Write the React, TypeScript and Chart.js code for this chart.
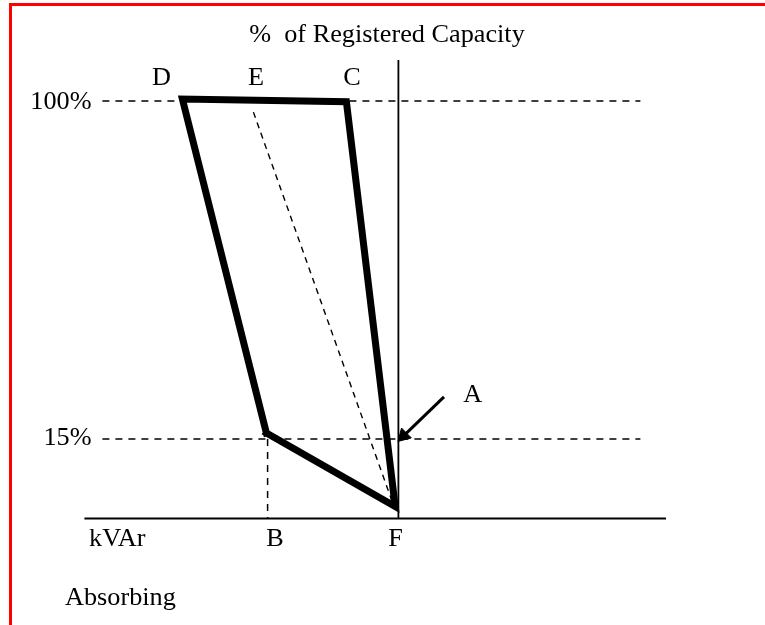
import { useEffect, useRef } from "react";
import { Chart, registerables } from "chart.js";

Chart.register(...registerables);

// Schematic units: x = kVAr (0 = unity power factor axis), y = % of Registered Capacity
const X_MIN = -99.6;
const X_MAX = 91.65;
const Y_MIN = -31.78;
const Y_MAX = 125.4;

// Capability envelope B -> D -> C -> F -> B
const envelopeKvar = [-33, -54, -13, -0.8, -33];
const envelopePct = [16.5, 100.5, 99.8, -2, 16.5];

// Dashed diagonal E -> F
const diagonalKvar = [-36.25, -1.25];
const diagonalPct = [97.2, -1.6];

// Dashed level lines (100% and 15%)
const levelPct = [100, 15];
const levelKvar = [-74, 60.5];

// kVAr axis
const axisPct = -5;
const axisKvar = [-78.5, 66.9];

// % axis (vertical)
const vAxisKvar = 0;
const vAxisPct = [110.3, -5];

// Dashed drop from B to the kVAr axis
const dropKvar = -32.7;
const dropPct = [15, -5];

// Arrow pointing at A
const arrowKvar = [11.4, 1.3];
const arrowPct = [25.6, 15.8];

// Text labels
const labelTexts = [
  "%  of Registered Capacity",
  "D",
  "E",
  "C",
  "100%",
  "15%",
  "A",
  "kVAr",
  "B",
  "F",
  "Absorbing",
];
const labelKvar = [-2.85, -59.2, -35.6, -11.6, -76.7, -76.7, 18.6, -77.35, -30.85, -0.7, -83.35];
const labelPct = [114.8, 104.0, 104.0, 104.0, 98.0, 13.5, 24.3, -11.9, -11.9, -11.9, -26.7];
const labelAlign: CanvasTextAlign[] = [
  "center",
  "center",
  "center",
  "center",
  "right",
  "right",
  "center",
  "left",
  "center",
  "center",
  "left",
];

const FONT = "25px 'Liberation Serif'";

const pts = (xs: number[], ys: number[]) => xs.map((x, i) => ({ x, y: ys[i] }));

const labelPlugin = {
  id: "diagramLabels",
  afterDatasetsDraw(chart: any) {
    const { ctx } = chart;
    const xs = chart.scales.x;
    const ys = chart.scales.y;
    ctx.save();
    ctx.fillStyle = "#000";
    ctx.font = FONT + ", 'Times New Roman', serif";
    ctx.textBaseline = "alphabetic";
    labelTexts.forEach((t, i) => {
      const px = xs.getPixelForValue(labelKvar[i]);
      const py = ys.getPixelForValue(labelPct[i]);
      ctx.save();
      ctx.translate(px, py);
      ctx.scale(1.05, 1);
      ctx.textAlign = labelAlign[i];
      ctx.fillText(t, 0, 0);
      ctx.restore();
    });
    ctx.restore();
  },
};

export default function App() {
  const ref = useRef<HTMLCanvasElement | null>(null);

  useEffect(() => {
    let chart: Chart | null = null;
    let cancelled = false;
    const build = () => {
      if (cancelled || !ref.current) return;
      const base = {
        showLine: true,
        pointRadius: 0,
        borderColor: "#000",
        backgroundColor: "#000",
        tension: 0,
        clip: false as any,
        fill: false,
      };
      chart = new Chart(ref.current, {
        type: "scatter",
        data: {
          datasets: [
            {
              ...base,
              label: "Envelope",
              data: pts(envelopeKvar, envelopePct),
              borderWidth: 7,
              borderJoinStyle: "miter",
              borderCapStyle: "square",
            },
            {
              ...base,
              label: "Arrow",
              data: pts(arrowKvar, arrowPct),
              borderWidth: 3,
              pointRadius: [0, 8],
              pointStyle: "triangle",
              pointRotation: 225,
              pointBackgroundColor: "#000",
              pointBorderColor: "#000",
              pointBorderWidth: 1,
            },
            {
              ...base,
              label: "E-F",
              data: pts(diagonalKvar, diagonalPct),
              borderWidth: 1.4,
              borderDash: [6, 5],
            },
            ...levelPct.map((p) => ({
              ...base,
              label: `${p}%`,
              data: pts(levelKvar, [p, p]),
              borderWidth: 1.5,
              borderDash: [7, 6],
            })),
            {
              ...base,
              label: "B drop",
              data: pts([dropKvar, dropKvar], dropPct),
              borderWidth: 1.5,
              borderDash: [7, 6],
            },
            {
              ...base,
              label: "% axis",
              data: pts([vAxisKvar, vAxisKvar], vAxisPct),
              borderWidth: 1.8,
            },
            {
              ...base,
              label: "kVAr axis",
              data: pts(axisKvar, [axisPct, axisPct]),
              borderWidth: 2.2,
            },
          ] as any,
        },
        options: {
          animation: false,
          responsive: false,
          devicePixelRatio: 1,
          layout: { padding: 0, autoPadding: false },
          events: [],
          plugins: {
            legend: { display: false },
            tooltip: { enabled: false },
            title: { display: false },
          },
          scales: {
            x: { type: "linear", min: X_MIN, max: X_MAX, display: false },
            y: { type: "linear", min: Y_MIN, max: Y_MAX, display: false },
          },
        },
        plugins: [labelPlugin],
      });
    };
    const fonts = (document as any).fonts;
    if (fonts && fonts.load) {
      fonts.load(FONT).then(build, build);
    } else {
      build();
    }
    return () => {
      cancelled = true;
      if (chart) chart.destroy();
    };
  }, []);

  return (
    <div
      style={{
        position: "fixed",
        left: 0,
        top: 0,
        width: 765,
        height: 625,
        background: "#fff",
        overflow: "hidden",
      }}
    >
      <div
        style={{
          position: "absolute",
          left: 9,
          top: 3,
          right: 0,
          bottom: -10,
          borderTop: "3px solid #ff0000",
          borderLeft: "3px solid #ff0000",
        }}
      />
      <canvas
        ref={ref}
        width={765}
        height={625}
        style={{ position: "absolute", left: 0, top: 0, width: 765, height: 625 }}
      />
    </div>
  );
}
